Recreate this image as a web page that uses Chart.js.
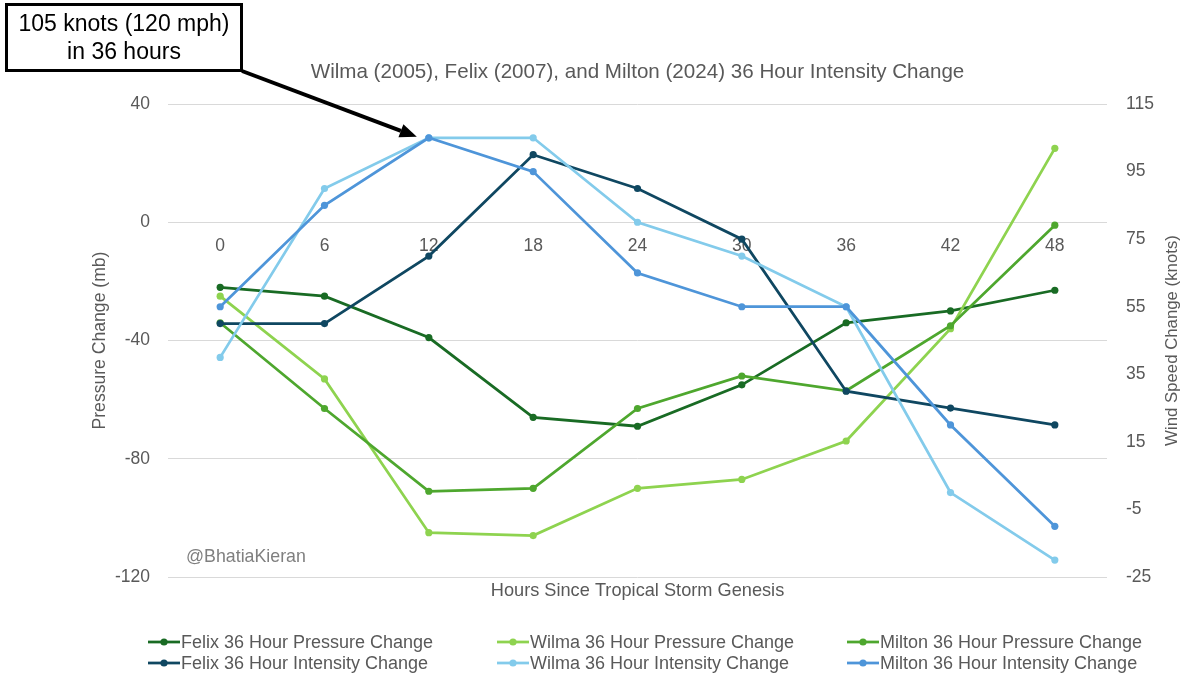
<!DOCTYPE html>
<html><head><meta charset="utf-8">
<script src="https://cdn.jsdelivr.net/npm/chart.js@4.4.1/dist/chart.umd.min.js"></script>
<style>
html,body{margin:0;padding:0;background:#fff;}
#wrap{position:relative;width:1200px;height:689px;overflow:hidden;}
#c{position:absolute;left:0;top:0;}
.lg{position:absolute;display:flex;align-items:center;font-family:'Liberation Sans',Arial,sans-serif;font-size:18px;color:#595959;white-space:nowrap;height:20px;}
.lg svg{margin-right:1px;}
</style></head><body>
<div id="wrap"><canvas id="c" width="1200" height="689"></canvas><div id="legend"></div></div>
<script>
const hours = ['0','6','12','18','24','30','36','42','48'];
const felixPressure   = [-22, -25, -39, -66, -69, -55, -34, -30, -23];
const wilmaPressure   = [-25, -53, -105, -106, -90, -87, -74, -36, 25];
const miltonPressure  = [-34, -63, -91, -90, -63, -52, -57, -35, -1];
const felixIntensity  = [50, 50, 70, 100, 90, 75, 30, 25, 20];
const wilmaIntensity  = [40, 90, 105, 105, 80, 70, 55, 0, -20];
const miltonIntensity = [55, 85, 105, 95, 65, 55, 55, 20, -10];
const pressureRange = [-120, 40];
const pressureStep = 40;
const windRange = [-25, 115];
const windStep = 20;

const FONT = "'Liberation Sans', Arial, sans-serif";
const GRAY = '#595959';

const seriesDefs = [
  {label: 'Felix 36 Hour Pressure Change',   data: felixPressure,   color: '#196B24', axis: 'y'},
  {label: 'Wilma 36 Hour Pressure Change',   data: wilmaPressure,   color: '#8ED34F', axis: 'y'},
  {label: 'Milton 36 Hour Pressure Change',  data: miltonPressure,  color: '#4EA72E', axis: 'y'},
  {label: 'Felix 36 Hour Intensity Change',  data: felixIntensity,  color: '#0F4761', axis: 'y1'},
  {label: 'Wilma 36 Hour Intensity Change',  data: wilmaIntensity,  color: '#83CBEB', axis: 'y1'},
  {label: 'Milton 36 Hour Intensity Change', data: miltonIntensity, color: '#4E95D9', axis: 'y1'}
];

const datasets = seriesDefs.map((s, i) => ({
  label: s.label,
  data: s.data,
  yAxisID: s.axis,
  borderColor: s.color,
  backgroundColor: s.color,
  pointBackgroundColor: s.color,
  pointBorderColor: s.color,
  borderWidth: 2.75,
  pointRadius: 3.6,
  pointBorderWidth: 0,
  tension: 0,
  order: seriesDefs.length - i
}));

const overlay = {
  id: 'overlay',
  afterDraw(chart) {
    const {ctx, chartArea, scales} = chart;
    // right axis title
    ctx.save();
    ctx.translate(scales.y1.right - 28, (chartArea.top + chartArea.bottom) / 2);
    ctx.rotate(-Math.PI / 2);
    ctx.fillStyle = GRAY;
    ctx.font = '16.8px ' + FONT;
    ctx.textAlign = 'center';
    ctx.textBaseline = 'middle';
    ctx.fillText('Wind Speed Change (knots)', 0, 0);
    ctx.restore();
    // watermark
    ctx.save();
    ctx.fillStyle = '#7F7F7F';
    ctx.font = '17.8px ' + FONT;
    ctx.textAlign = 'left';
    ctx.textBaseline = 'middle';
    ctx.fillText('@BhatiaKieran', chartArea.left + 18, chartArea.bottom - 20);
    ctx.restore();
    // annotation box
    ctx.save();
    ctx.fillStyle = '#fff';
    ctx.fillRect(6, 4, 236, 67);
    ctx.strokeStyle = '#000';
    ctx.lineWidth = 3;
    ctx.strokeRect(6.5, 4.5, 235, 66);
    ctx.fillStyle = '#000';
    ctx.font = '23px ' + FONT;
    ctx.textAlign = 'center';
    ctx.textBaseline = 'middle';
    ctx.fillText('105 knots (120 mph)', 124, 25);
    ctx.fillText('in 36 hours', 124, 53);
    // arrow
    const tx = scales.x.getPixelForValue(2) - 12;
    const ty = scales.y1.getPixelForValue(105) - 1;
    const sx = 242, sy = 71;
    const ang = Math.atan2(ty - sy, tx - sx);
    const hl = 17, hw = 7;
    const bx = tx - hl * Math.cos(ang), by = ty - hl * Math.sin(ang);
    ctx.strokeStyle = '#000';
    ctx.lineWidth = 4;
    ctx.beginPath();
    ctx.moveTo(sx, sy);
    ctx.lineTo(bx, by);
    ctx.stroke();
    ctx.beginPath();
    ctx.moveTo(tx, ty);
    ctx.lineTo(bx + hw * Math.sin(ang), by - hw * Math.cos(ang));
    ctx.lineTo(bx - hw * Math.sin(ang), by + hw * Math.cos(ang));
    ctx.closePath();
    ctx.fill();
    ctx.restore();
  }
};

const chart = new Chart(document.getElementById('c'), {
  type: 'line',
  data: {labels: hours, datasets},
  plugins: [overlay],
  options: {
    responsive: false,
    animation: false,
    layout: {padding: {left: 90, right: 0, top: 0, bottom: 0}},
    plugins: {
      legend: {display: false},
      tooltip: {enabled: false},
      title: {
        display: true,
        fullSize: false,
        text: 'Wilma (2005), Felix (2007), and Milton (2024) 36 Hour Intensity Change',
        color: GRAY,
        font: {family: FONT, size: 20.6, weight: 'normal'},
        padding: {top: 59.6, bottom: 19.7}
      }
    },
    scales: {
      x: {
        type: 'category',
        position: {y: 0},
        offset: true,
        grid: {display: false, drawTicks: false},
        border: {display: false},
        ticks: {color: GRAY, font: {family: FONT, size: 17.5}, padding: 13, maxRotation: 0, autoSkip: false}
      },
      xt: {
        type: 'category',
        labels: hours,
        position: 'bottom',
        offset: true,
        grid: {display: false, drawTicks: false},
        border: {display: false},
        ticks: {display: false},
        title: {display: true, text: 'Hours Since Tropical Storm Genesis', color: GRAY,
                font: {family: FONT, size: 18.2}, padding: {top: 4, bottom: 87.1}},
        afterFit: s => { s.height = 112; }
      },
      y: {
        type: 'linear',
        position: 'left',
        min: pressureRange[0],
        max: pressureRange[1],
        ticks: {stepSize: pressureStep, color: GRAY, font: {family: FONT, size: 17.5}, padding: 18},
        grid: {color: '#D9D9D9', lineWidth: 1, drawTicks: false},
        border: {display: false},
        title: {display: true, text: 'Pressure Change (mb)', color: GRAY,
                font: {family: FONT, size: 17.6}, padding: {top: 0, bottom: 0}},
        afterFit: s => { s.width = 78; }
      },
      y1: {
        type: 'linear',
        position: 'right',
        min: windRange[0],
        max: windRange[1],
        ticks: {stepSize: windStep, color: GRAY, font: {family: FONT, size: 17.5}, padding: 19},
        grid: {display: false, drawTicks: false},
        border: {display: false},
        afterFit: s => { s.width = 93; }
      }
    }
  }
});

// HTML legend built from the chart's datasets
const legendEl = document.getElementById('legend');
const colX = [148, 497, 847];
const rowY = [642, 663];
chart.data.datasets.forEach((ds, i) => {
  const col = i % 3, row = Math.floor(i / 3);
  const item = document.createElement('div');
  item.className = 'lg';
  item.style.left = colX[col] + 'px';
  item.style.top = (rowY[row] - 10) + 'px';
  const c = ds.borderColor;
  item.innerHTML = '<svg width="32" height="12" viewBox="0 0 32 12"><line x1="0" y1="6" x2="32" y2="6" stroke="' + c +
    '" stroke-width="2.75"/><circle cx="16" cy="6" r="3.6" fill="' + c + '"/></svg><span>' + ds.label + '</span>';
  legendEl.appendChild(item);
});
</script>
</body></html>
